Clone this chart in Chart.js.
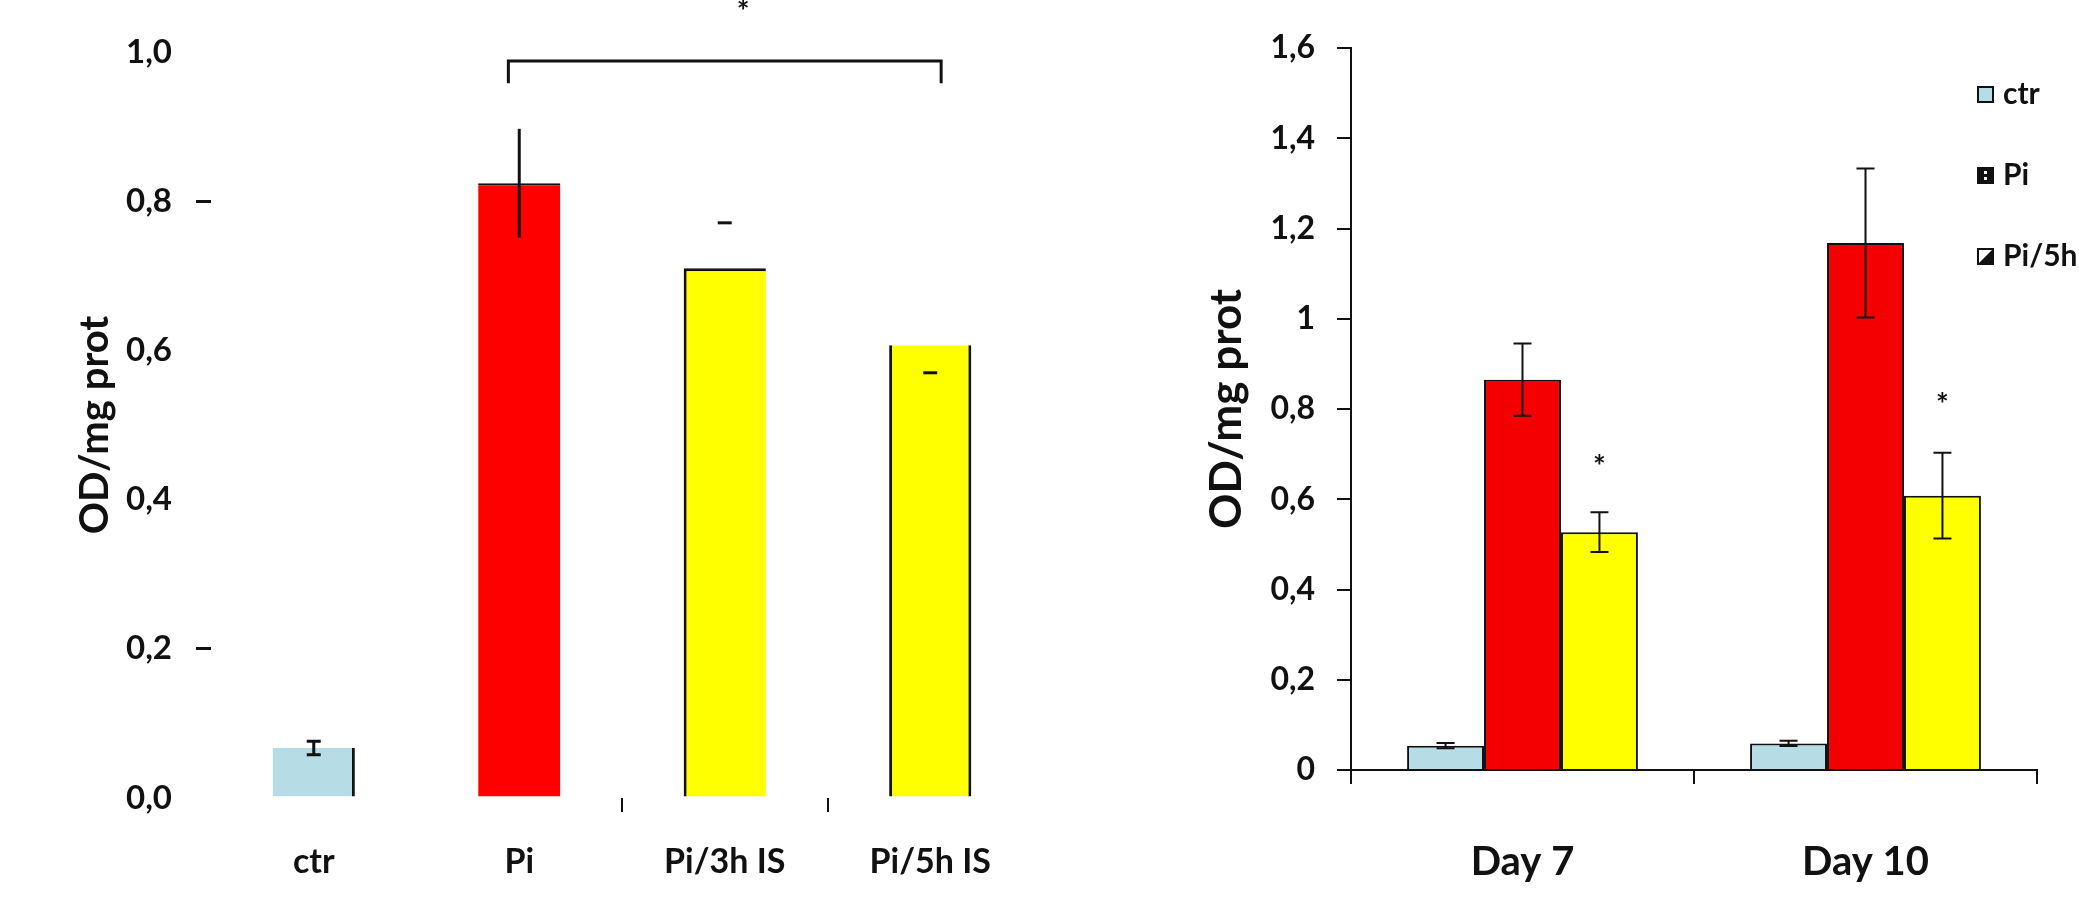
<!DOCTYPE html>
<html>
<head>
<meta charset="utf-8">
<script src="https://cdn.jsdelivr.net/npm/chart.js@4.4.1/dist/chart.umd.min.js"></script>
<style>
  html, body { margin: 0; padding: 0; background: #fff; }
  #leftChart { position: absolute; left: 0; top: 0; }
  #rightChart { position: absolute; left: 1140px; top: 0; }
</style>
</head>
<body>
<canvas id="leftChart" width="1140" height="910"></canvas>
<canvas id="rightChart" width="939" height="910"></canvas>
<script>
// left panel
const leftCats = ['ctr', 'Pi', 'Pi/3h IS', 'Pi/5h IS'];
const leftValues = [0.067, 0.824, 0.710, 0.607];
const leftErrors = [0.009, 0.073, 0.061, 0.037];
const leftErrorShow = ['both', 'line', 'up', 'down'];
const leftTickMarks = [0.2, 0.8];

// right panel
const rightCats = ['Day 7', 'Day 10'];
const ctrValues = [0.054, 0.059];
const piValues = [0.865, 1.168];
const pi5hValues = [0.527, 0.608];
const ctrErrors = [0.006, 0.006];
const piErrors = [0.080, 0.165];
const pi5hErrors = [0.044, 0.095];
const pi5hStars = [0.67, 0.809];

Chart.defaults.font.family = 'Lato';
Chart.defaults.font.weight = 'bold';
Chart.defaults.color = '#111';

const lightBlue = '#b6dce6';

function makeIcon(draw) {
  const c = document.createElement('canvas');
  c.width = 17; c.height = 17;
  draw(c.getContext('2d'));
  return c;
}
const iconCtr = makeIcon(g => {
  g.fillStyle = lightBlue; g.fillRect(0, 0, 17, 17);
  g.strokeStyle = '#111'; g.lineWidth = 2; g.strokeRect(1, 1, 15, 15);
});
const iconPi = makeIcon(g => {
  g.fillStyle = '#111'; g.fillRect(0, 0, 17, 17);
  g.fillStyle = '#fff'; g.fillRect(7, 4, 3, 3); g.fillRect(7, 10, 3, 3);
});
const iconPi5h = makeIcon(g => {
  g.fillStyle = '#fff'; g.fillRect(0, 0, 17, 17);
  g.fillStyle = '#111';
  g.beginPath(); g.moveTo(16, 1); g.lineTo(16, 16); g.lineTo(1, 16); g.closePath(); g.fill();
  g.strokeStyle = '#111'; g.lineWidth = 2; g.strokeRect(1, 1, 15, 15);
});

const errorBars = {
  id: 'errorBars',
  afterDatasetsDraw(chart, args, o) {
    const ctx = chart.ctx;
    const y = chart.scales.y;
    chart.data.datasets.forEach((ds, di) => {
      if (!ds.errors) return;
      chart.getDatasetMeta(di).data.forEach((bar, i) => {
        const v = ds.data[i], e = ds.errors[i];
        const show = ds.errorShow ? ds.errorShow[i] : 'both';
        const top = y.getPixelForValue(v + e), bot = y.getPixelForValue(v - e);
        const h = o.cap / 2;
        ctx.save();
        ctx.strokeStyle = '#111';
        ctx.lineWidth = o.width;
        ctx.beginPath();
        if (show === 'both' || show === 'line') { ctx.moveTo(bar.x, top); ctx.lineTo(bar.x, bot); }
        if (show === 'both' || show === 'up') { ctx.moveTo(bar.x - h, top); ctx.lineTo(bar.x + h, top); }
        if (show === 'both' || show === 'down') { ctx.moveTo(bar.x - h, bot); ctx.lineTo(bar.x + h, bot); }
        ctx.stroke();
        ctx.restore();
      });
    });
  }
};

const bracket = {
  id: 'bracket',
  afterDraw(chart, args, o) {
    const {ctx, scales: {x, y}} = chart;
    const x1 = x.getPixelForValue(o.from), x2 = x.getPixelForValue(o.to);
    const yl = y.getPixelForValue(o.level), yd = y.getPixelForValue(o.drop);
    ctx.save();
    ctx.strokeStyle = '#111';
    ctx.lineWidth = 3;
    ctx.beginPath();
    ctx.moveTo(x1, yd); ctx.lineTo(x1, yl); ctx.lineTo(x2, yl); ctx.lineTo(x2, yd);
    ctx.stroke();
    ctx.fillStyle = '#111';
    ctx.font = 'bold 30px Lato';
    ctx.textAlign = 'center';
    ctx.textBaseline = 'middle';
    ctx.fillText('*', x.getPixelForValue(o.starAt), y.getPixelForValue(o.starLevel));
    ctx.restore();
  }
};

const stars = {
  id: 'stars',
  afterDatasetsDraw(chart) {
    const ctx = chart.ctx, y = chart.scales.y;
    chart.data.datasets.forEach((ds, di) => {
      if (!ds.stars) return;
      chart.getDatasetMeta(di).data.forEach((bar, i) => {
        ctx.save();
        ctx.fillStyle = '#111';
        ctx.font = 'bold 30px Lato';
        ctx.textAlign = 'center';
        ctx.textBaseline = 'middle';
        ctx.fillText('*', bar.x, y.getPixelForValue(ds.stars[i]));
        ctx.restore();
      });
    });
  }
};

const sideLegend = {
  id: 'sideLegend',
  afterDraw(chart, args, o) {
    const {ctx, chartArea} = chart;
    ctx.save();
    ctx.font = 'bold 30px Lato';
    ctx.textBaseline = 'middle';
    ctx.fillStyle = '#111';
    chart.data.datasets.forEach((ds, i) => {
      const bx = chartArea.right + o.x;
      const cy = chartArea.top + o.y + i * o.gap;
      ctx.drawImage(ds.icon, bx, cy - 8.5);
      ctx.fillText(ds.label, bx + 26, cy);
    });
    ctx.restore();
  }
};

new Chart(document.getElementById('leftChart'), {
  type: 'bar',
  data: {
    labels: leftCats,
    datasets: [{
      data: leftValues,
      errors: leftErrors,
      errorShow: leftErrorShow,
      backgroundColor: [lightBlue, '#ff0000', '#ffff00', '#ffff00'],
      borderColor: '#111',
      borderSkipped: false,
      borderWidth: [
        {top: 0, right: 3, bottom: 0, left: 0},
        {top: 2, right: 0, bottom: 0, left: 0},
        {top: 3, right: 0, bottom: 0, left: 3},
        {top: 0, right: 3, bottom: 0, left: 3}
      ],
      barPercentage: 0.4,
      categoryPercentage: 1
    }]
  },
  options: {
    responsive: false,
    animation: false,
    layout: { padding: { top: 52, right: 107, left: 0, bottom: 0 } },
    plugins: {
      legend: { display: false },
      tooltip: { enabled: false },
      errorBars: { cap: 14, width: 3 },
      bracket: { from: 0.947, to: 3.053, level: 0.988, drop: 0.958, starAt: 2.09, starLevel: 1.053 }
    },
    scales: {
      x: {
        grid: {
          offset: true, drawOnChartArea: false, tickLength: 14, lineWidth: 2,
          color: c => (c.index === 2 || c.index === 3) ? '#111' : 'rgba(0,0,0,0)'
        },
        border: { display: false },
        ticks: { padding: 30, font: { size: 34, weight: 'bold' }, color: '#111' },
        afterFit: s => { s.height = 112; }
      },
      y: {
        min: 0,
        max: 1,
        ticks: {
          stepSize: 0.2, padding: 24, font: { size: 33, weight: 'bold' }, color: '#111',
          callback: v => v.toFixed(1).replace('.', ',')
        },
        grid: {
          drawOnChartArea: false, tickLength: 15, lineWidth: 3,
          color: c => (c.tick && leftTickMarks.some(t => Math.abs(c.tick.value - t) < 1e-6)) ? '#111' : 'rgba(0,0,0,0)'
        },
        border: { display: false },
        title: { display: true, text: 'OD/mg prot', font: { size: 40, weight: 'bold' }, color: '#111', padding: { top: 71, bottom: 0 } },
        afterFit: s => { s.width = 211; }
      }
    }
  },
  plugins: [errorBars, bracket]
});

new Chart(document.getElementById('rightChart'), {
  type: 'bar',
  data: {
    labels: rightCats,
    datasets: [
      { label: 'ctr', data: ctrValues, errors: ctrErrors, backgroundColor: lightBlue, icon: iconCtr },
      { label: 'Pi', data: piValues, errors: piErrors, backgroundColor: '#f40000', icon: iconPi },
      { label: 'Pi/5h', data: pi5hValues, errors: pi5hErrors, stars: pi5hStars, backgroundColor: '#ffff00', icon: iconPi5h }
    ]
  },
  options: {
    responsive: false,
    animation: false,
    layout: { padding: { top: 48, right: 42, left: 0, bottom: 0 } },
    datasets: { bar: { borderColor: '#111', borderWidth: 2, categoryPercentage: 0.673, barPercentage: 1 } },
    plugins: {
      legend: { display: false },
      tooltip: { enabled: false },
      errorBars: { cap: 18, width: 2 },
      sideLegend: { x: -60, y: 46.5, gap: 81 }
    },
    scales: {
      x: {
        grid: { offset: true, drawOnChartArea: false, tickLength: 14, lineWidth: 2, color: '#111' },
        border: { display: true, color: '#111', width: 2 },
        ticks: { padding: 54, font: { size: 40, weight: 'bold' }, color: '#111' },
        afterFit: s => { s.height = 140; }
      },
      y: {
        min: 0,
        max: 1.6,
        ticks: {
          stepSize: 0.2, padding: 22, font: { size: 32, weight: 'bold' }, color: '#111',
          callback: v => String(Math.round(v * 10) / 10).replace('.', ',')
        },
        grid: { drawOnChartArea: false, tickLength: 14, lineWidth: 2, color: '#111' },
        border: { display: true, color: '#111', width: 2 },
        title: { display: true, text: 'OD/mg prot', font: { size: 44, weight: 'bold' }, color: '#111', padding: { top: 60, bottom: 0 } },
        afterFit: s => { s.width = 211; }
      }
    }
  },
  plugins: [errorBars, stars, sideLegend]
});
</script>
</body>
</html>
